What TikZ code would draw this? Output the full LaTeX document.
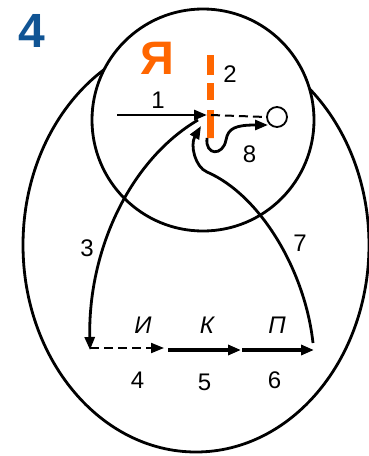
\documentclass[tikz,border=0pt]{standalone}
\usepackage{fontspec}
\setmainfont{Liberation Sans}
\usetikzlibrary{arrows.meta}
\definecolor{azul}{RGB}{16,84,148}
\definecolor{naranja}{RGB}{255,102,0}
\definecolor{tinta}{RGB}{0,0,0}

\begin{document}
\begin{tikzpicture}[x=1pt, y=-1pt, >={Triangle[length=13pt,width=10pt]},
  txt/.style={tinta, font=\fontsize{24}{26}\selectfont, inner sep=0pt},
  letra/.style={txt, font=\fontsize{24}{26}\selectfont\itshape},
  flecha/.style={tinta, line width=2.8pt, ->},
  gruesa/.style={tinta, line width=3.2pt, ->},
  punteada/.style={tinta, line width=2pt, dash pattern=on 9pt off 5pt}]
  \useasboundingbox (0,0) rectangle (368,456);
  % campo y sujeto
  \draw[line width=2.8pt] (196,245) ellipse [x radius=173pt, y radius=207pt];
  \draw[line width=2.8pt, fill=white] (203,120) circle [radius=111pt];
  \node[azul, font=\fontsize{48}{50}\selectfont\bfseries, inner sep=0pt] (num) at (31.5,30.5) {4};
  \node[naranja, font=\fontsize{47}{48}\selectfont\bfseries, inner sep=0pt] (ya) at (157,58.5) {Я};
  % frontera
  \draw[naranja, line width=7pt, dash pattern=on 20pt off 8pt on 17pt off 10pt on 28pt off 0pt] (210.5,55) -- (210.5,138);
  \coordinate (ini) at (117,115);
  \coordinate (jun) at (207,115);
  \coordinate (sal) at (198,120);
  \coordinate (sal8) at (207,138);
  \coordinate (fin8) at (268,125);
  \coordinate (fin7) at (201,126);
  \node[circle, draw, line width=1.8pt, minimum size=20pt, inner sep=0pt, fill=white] (meta) at (277,117) {};
  \draw[flecha] (ini) -- (jun);
  \draw[punteada] (211,115) -- (meta.west);
  \draw[flecha] (sal) .. controls (130,160) and (88,250) .. (90,350);
  \draw[flecha] (313,343) .. controls (305,270) and (260,195) .. (207,172) .. controls (195,167) and (190,145) .. (fin7);
  \draw[flecha] (sal8) .. controls (205,156) and (223,156) .. (226,140) .. controls (228,128) and (236,125) .. (fin8);
  % cadena inferior
  \coordinate (i0) at (90,348);  \coordinate (i1) at (164,348);
  \coordinate (k0) at (168,350); \coordinate (k1) at (241,350);
  \coordinate (p0) at (242,350); \coordinate (p1) at (314,350);
  \draw[punteada, ->] (i0) -- (i1);
  \draw[gruesa] (k0) -- (k1);
  \draw[gruesa] (p0) -- (p1);
  \node[letra] (ii) at (143,325) {И};
  \node[letra] (kk) at (207,325) {К};
  \node[letra] (pp) at (277,325) {П};
  % numeros
  \node[txt] (n1) at (158,100) {1};
  \node[txt] (n2) at (230,74.5) {2};
  \node[txt] (n3) at (87,248) {3};
  \node[txt] (n4) at (137.5,380.5) {4};
  \node[txt] (n5) at (204.5,382) {5};
  \node[txt] (n6) at (274.5,380.5) {6};
  \node[txt] (n7) at (300,243) {7};
  \node[txt] (n8) at (249.5,154) {8};
\end{tikzpicture}
\end{document}
